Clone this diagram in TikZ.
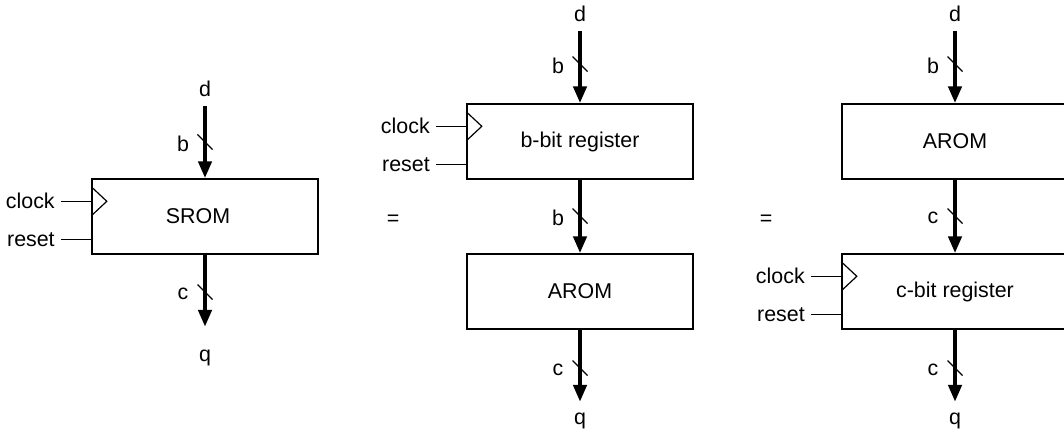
\documentclass[tikz,border=0pt]{standalone}
\usepackage{fontspec}
\setmainfont{Liberation Sans}
\usetikzlibrary{arrows.meta,calc}
\tikzset{every picture/.style={line width=0.6pt}}

\begin{document}
\begin{tikzpicture}[
    x=0.5pt, y=-0.5pt,
    block/.style={
        rectangle, draw, line width=0.7pt, inner sep=0pt,
        minimum width=113pt, minimum height=37.5pt,
        font=\fontsize{10.7}{12}\selectfont
    },
    sig/.style={inner sep=0pt, font=\fontsize{10.7}{12}\selectfont},
    bus/.style={line width=2.2pt, -{Triangle[length=8.5pt,width=6.5pt]}},
    wire/.style={line width=0.6pt},
    tick/.style={line width=0.6pt},
]

\useasboundingbox (0,0) rectangle (1064,432);
\clip (0,0) rectangle (1064,432);

%% ===================== BLOCKS =====================
\node[block] (srom)  at (205,216.5) {\hspace*{-7pt}SROM};
\node[block] (regB)  at (580,141.5) {b-bit register};
\node[block] (aromB) at (580,291.5) {AROM};
\node[block] (aromC) at (955,141.5) {AROM};
\node[block] (regC)  at (955,291.5) {c-bit register};

\node[sig] (eqA) at (393,220) {=};
\node[sig] (eqB) at (766,220) {=};

%% ===================== DATA IN / OUT =====================
\node[sig, anchor=base] (dA) at (205,97)  {d};
\node[sig, anchor=base] (qA) at (205,361) {q};
\node[sig, anchor=base] (dB) at (580,22)  {d};
\node[sig, anchor=base] (qB) at (580,424) {q};
\node[sig, anchor=base] (dC) at (955,22)  {d};
\node[sig, anchor=base] (qC) at (955,424) {q};

% single block
\draw[bus, shorten <=4pt] (dA) -- (srom);
\draw[bus, shorten >=11pt] (srom) -- (qA);

% register then rom
\draw[bus, shorten <=4pt] (dB) -- (regB);
\draw[bus] (regB) -- (aromB);
\draw[bus, shorten >=5pt] (aromB) -- (qB);

% rom then register
\draw[bus, shorten <=4pt] (dC) -- (aromC);
\draw[bus] (aromC) -- (regC);
\draw[bus, shorten >=5pt] (regC) -- (qC);

%% bus widths: label + slash
\foreach \x/\y/\w/\n in {205/144/b/1, 205/294/c/2,
                         580/66/b/3, 580/218/b/4, 580/370/c/5,
                         955/66/b/6, 955/218/c/7, 955/370/c/8} {
  \node[sig] (w\n) at (\x-22,\y) {\w};
  \draw[tick] (\x-7.5,\y-9.5) -- (\x+7.5,\y+5.5);
}

%% ===================== CLOCK / RESET =====================
\foreach \b/\n in {srom/A, regB/B, regC/C} {
  \coordinate (clk\n) at ($(\b.north west)+(0,23)$);
  \coordinate (rst\n) at ($(\b.north west)+(0,61)$);
  \node[sig, anchor=east] (clkL\n) at ($(clk\n)+(-36,0)$) {clock};
  \node[sig, anchor=east] (rstL\n) at ($(rst\n)+(-36,0)$) {reset};
  \draw[wire, shorten <=3pt] (clkL\n) -- (clk\n);
  \draw[wire, shorten <=3pt] (rstL\n) -- (rst\n);
  % edge-triggered marker
  \draw[wire] ($(clk\n)+(0,-14.5)$) -- ++(15.5,14.5) -- ++(-15.5,14.5);
}

\end{tikzpicture}
\end{document}
